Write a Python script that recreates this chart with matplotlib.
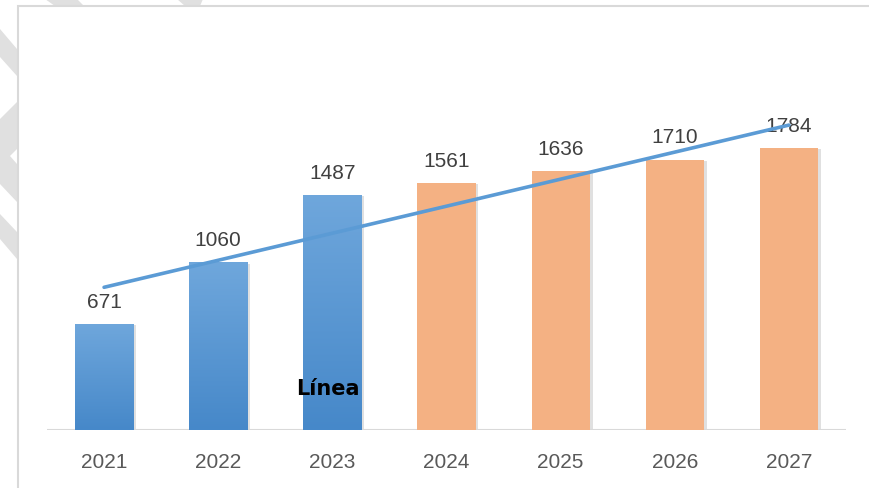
import numpy as np
import matplotlib
matplotlib.use("Agg")
import matplotlib.pyplot as plt
import matplotlib.patches as patches
from matplotlib.colors import LinearSegmentedColormap

years = ["2021", "2022", "2023", "2024", "2025", "2026", "2027"]
values = [671, 1060, 1487, 1561, 1636, 1710, 1784]
actual = [True, True, True, False, False, False, False]

W, H = 870, 489
fig = plt.figure(figsize=(W / 100, H / 100), dpi=100)


def px(pts):
    # pixel coords (top-left origin) -> figure fraction
    return [(x / W, 1 - y / H) for x, y in pts]


# faint watermark pieces peeking out around the chart area
grey = "#E0E0E0"
marks = [
    [(0, 30), (17, 50), (17, 77), (0, 58)],
    [(0, 120), (17, 103), (17, 150), (10, 157), (17, 165), (17, 203), (0, 185)],
    [(0, 215), (17, 233), (17, 260), (0, 240)],
    [(45, 0), (77, 0), (84, 7), (55, 7)],
    [(177, 0), (203, 0), (200, 7), (185, 7)],
]
for m in marks:
    fig.patches.append(patches.Polygon(px(m), closed=True, transform=fig.transFigure,
                                       facecolor=grey, edgecolor="none", zorder=0))

# chart area frame
fig.patches.append(patches.Rectangle((18 / W, -0.1), 1, 1 - 7 / H + 0.1,
                                     transform=fig.transFigure, facecolor="white",
                                     edgecolor="#D9D9D9", lw=1.5, zorder=0.5))

ax = fig.add_axes([47 / W, (H - 431) / H, 799 / W, (431 - 40) / H])
ax.set_facecolor("none")
ax.set_zorder(1)

x = np.arange(len(years))
bw = 0.51
blue_cmap = LinearSegmentedColormap.from_list("b", ["#4688C9", "#6FA7DC"])
orange = "#F4B183"

for xi, v, real in zip(x, values, actual):
    # soft shadow
    ax.bar(xi + 0.025, v, bw, bottom=-8, color="#000000", alpha=0.12, zorder=1)
    b = ax.bar(xi, v, bw, color=orange if not real else "#5B9BD5", zorder=2)[0]
    if real:
        grad = np.linspace(0, 1, 256).reshape(-1, 1)
        im = ax.imshow(grad, cmap=blue_cmap, origin="lower", aspect="auto",
                       extent=(xi - bw / 2, xi + bw / 2, 0, v), zorder=2.5)
        im.set_clip_path(b)
    ax.annotate(str(v), (xi, v), xytext=(0, 12.5), textcoords="offset points",
                ha="center", va="baseline", fontsize=15, color="#404040",
                family="Liberation Sans", zorder=3)

# linear trend line
k, c = np.polyfit(x, values, 1)
ax.plot(x, k * x + c, color="#5B9BD5", lw=2.6, solid_capstyle="round", zorder=4)

ax.text(1.68, 228, "Línea", fontsize=15, fontweight="bold", color="black",
        family="DejaVu Sans", zorder=5)

ax.axhline(0, color="#D9D9D9", lw=1.5, zorder=1.5)
ax.set_xlim(-0.5, len(years) - 0.5)
ax.set_ylim(0, 2473)
ax.set_xticks(x)
ax.set_xticklabels(years, fontsize=15, color="#595959", family="Liberation Sans")
ax.tick_params(axis="x", length=0, pad=15.5)
ax.set_yticks([])
for s in ax.spines.values():
    s.set_visible(False)

fig.savefig("out.png", dpi=100)
